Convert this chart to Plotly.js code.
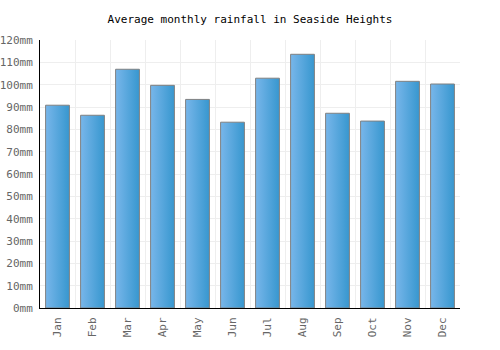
<!DOCTYPE html>
<html>
<head>
<meta charset="utf-8">
<script src="https://cdn.plot.ly/plotly-3.0.1.min.js"></script>
<style>html,body{margin:0;padding:0;background:#fff;}#chart{width:500px;height:350px;}</style>
</head>
<body>
<div id="chart"></div>
<script>
const months = ["Jan","Feb","Mar","Apr","May","Jun","Jul","Aug","Sep","Oct","Nov","Dec"];
const rainfall = [90.8, 86.3, 106.9, 99.7, 93.4, 83.2, 102.9, 113.6, 87.2, 83.7, 101.5, 100.3];
const tickVals = [0,10,20,30,40,50,60,70,80,90,100,110,120];
const tickText = tickVals.map(v => v + "mm");

const font = "DejaVu Sans Mono, monospace";
Plotly.newPlot("chart", [{
  type: "bar",
  x: months,
  y: rainfall,
  marker: {color: "#55a5dc", line: {color: "#808080", width: 1}},
  hoverinfo: "none"
}], {
  width: 500, height: 350,
  margin: {l: 40, r: 40, t: 40, b: 42},
  paper_bgcolor: "#fff", plot_bgcolor: "#fff",
  bargap: 0.32,
  title: {text: "Average monthly rainfall in Seaside Heights", font: {family: font, size: 11, color: "#000"}, x: 0.5, xanchor: "center", y: 0.945, yanchor: "middle"},
  xaxis: {
    type: "category", tickson: "boundaries", showgrid: true, gridcolor: "#eeeeee",
    showline: true, linecolor: "#000", linewidth: 1, ticks: "", tickangle: -90,
    ticklabelstandoff: 4,
    tickfont: {family: font, size: 11, color: "#666"}, fixedrange: true
  },
  yaxis: {
    range: [0, 120], tickvals: tickVals, ticktext: tickText, showgrid: true, gridcolor: "#eeeeee",
    showline: true, linecolor: "#000", linewidth: 1, ticks: "", zeroline: false,
    ticklabelstandoff: 4,
    tickfont: {family: font, size: 11, color: "#666"}, fixedrange: true
  },
  showlegend: false
}, {staticPlot: true}).then(function(gd){
  const svg = gd.querySelector("svg.main-svg");
  const ns = "http://www.w3.org/2000/svg";
  let defs = svg.querySelector("defs");
  if (!defs) { defs = document.createElementNS(ns, "defs"); svg.insertBefore(defs, svg.firstChild); }
  const lg = document.createElementNS(ns, "linearGradient");
  lg.setAttribute("id", "barGrad");
  lg.setAttribute("x1", "0"); lg.setAttribute("y1", "0"); lg.setAttribute("x2", "1"); lg.setAttribute("y2", "0");
  [["0%", "#78b6ea"], ["100%", "#3797cf"]].forEach(function(s){
    const st = document.createElementNS(ns, "stop");
    st.setAttribute("offset", s[0]); st.setAttribute("stop-color", s[1]);
    lg.appendChild(st);
  });
  defs.appendChild(lg);
  gd.querySelectorAll(".bars .point path").forEach(function(p){
    p.style.fill = "url(#barGrad)";
  });
});
</script>
</body>
</html>
